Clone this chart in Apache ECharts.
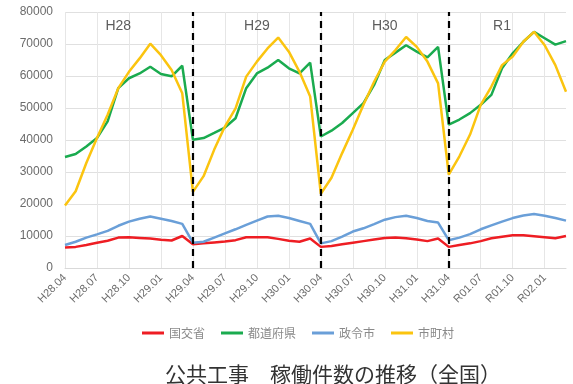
<!DOCTYPE html>
<html>
<head>
<meta charset="utf-8">
<script src="https://cdn.jsdelivr.net/npm/echarts@6/dist/echarts.min.js"></script>
<style>
  html, body { margin: 0; padding: 0; background: #fff; }
  #chart { width: 573px; height: 384px; }
</style>
</head>
<body>
<div id="chart"></div>
<script>
// Months from H28.04 to R02.03 (fiscal years H28, H29, H30, R1)
const months = [
  'H28.04','H28.05','H28.06','H28.07','H28.08','H28.09','H28.10','H28.11','H28.12','H29.01','H29.02','H29.03',
  'H29.04','H29.05','H29.06','H29.07','H29.08','H29.09','H29.10','H29.11','H29.12','H30.01','H30.02','H30.03',
  'H30.04','H30.05','H30.06','H30.07','H30.08','H30.09','H30.10','H30.11','H30.12','H31.01','H31.02','H31.03',
  'H31.04','R01.05','R01.06','R01.07','R01.08','R01.09','R01.10','R01.11','R01.12','R02.01','R02.02','R02.03'
];

// 国交省
const mlit = [
  6400, 6600, 7200, 7900, 8500, 9500, 9600, 9400, 9200, 8800, 8600, 10000,
  7400, 7700, 8000, 8300, 8700, 9600, 9600, 9600, 9100, 8500, 8200, 9200,
  6600, 6900, 7400, 7900, 8400, 8900, 9400, 9500, 9300, 8900, 8400, 9200,
  6600, 7200, 7700, 8400, 9300, 9800, 10200, 10200, 9900, 9600, 9300, 10000
];
// 都道府県
const prefectures = [
  34700, 35600, 38000, 40600, 45800, 56200, 59300, 60800, 62900, 60600, 59900, 63200,
  40100, 40600, 42200, 43900, 46800, 56200, 60800, 62600, 65000, 62400, 60800, 64200,
  41100, 42900, 45300, 48400, 51500, 57200, 65000, 67300, 69600, 67600, 65800, 69100,
  44800, 46400, 48400, 51000, 54100, 62400, 67100, 70700, 73800, 71800, 69800, 70900
];
// 政令市
const designatedCities = [
  7200, 8200, 9500, 10500, 11600, 13200, 14500, 15400, 16100, 15400, 14700, 13800,
  7900, 8200, 9500, 10800, 12100, 13500, 14800, 16100, 16300, 15600, 14700, 13800,
  7700, 8400, 9800, 11400, 12400, 13700, 15100, 15900, 16300, 15600, 14700, 14200,
  8700, 9500, 10600, 12100, 13300, 14500, 15600, 16400, 16900, 16300, 15600, 14800
];
// 市町村
const municipalities = [
  19500, 24000, 32800, 40600, 47900, 56200, 61300, 65500, 70100, 66500, 61900, 54600,
  23800, 28700, 37000, 44200, 49900, 59800, 64500, 68600, 72000, 67600, 61300, 53600,
  23200, 28200, 35900, 43200, 51000, 58200, 64500, 68100, 72200, 69100, 64500, 57700,
  29200, 34900, 41700, 51000, 56700, 63400, 66100, 70700, 73800, 69600, 63400, 55100
];

// Fiscal year boundaries and year captions
const fyStarts = ['H29.04', 'H30.04', 'H31.04'];
const fyNames = ['H28', 'H29', 'H30', 'R1'];
const fyNameAt = ['H28.09', 'H29.10', 'H30.10', 'R01.09'];
const fyNameLevel = 75500;

const seriesNames = ['国交省', '都道府県', '政令市', '市町村'];
const seriesData = [mlit, prefectures, designatedCities, municipalities];
const seriesColors = ['#ee1d23', '#1aab4f', '#6a9fd8', '#fbc40f'];

const baseFont = "'Liberation Sans', 'Noto Sans CJK JP', sans-serif";

const lineSeries = seriesNames.map((name, i) => ({
  name: name,
  type: 'line',
  data: seriesData[i],
  symbol: 'none',
  smooth: false,
  lineStyle: { width: 2.5, color: seriesColors[i] },
  itemStyle: { color: seriesColors[i] },
  z: 2 + i
}));

// Dashed separators between fiscal years
lineSeries[0].markLine = {
  silent: true,
  symbol: ['none', 'none'],
  label: { show: false },
  lineStyle: { color: '#000', width: 2.2, type: [7, 5] },
  data: fyStarts.map(m => ({ xAxis: m })),
  z: 10
};

const chart = echarts.init(document.getElementById('chart'), null, { renderer: 'canvas' });
chart.setOption({
  animation: false,
  textStyle: { fontFamily: baseFont },
  grid: { left: 65, right: 7, top: 12, bottom: 116, containLabel: false },
  title: {
    text: '公共工事　稼働件数の推移（全国）',
    left: 160,
    top: 359,
    textStyle: {
      fontFamily: "'Noto Sans CJK JP', sans-serif",
      fontSize: 21,
      fontWeight: 'normal',
      color: '#333'
    }
  },
  legend: {
    data: seriesNames,
    left: 137,
    top: 322,
    icon: 'rect',
    itemWidth: 22,
    itemHeight: 3,
    itemGap: 16,
    textStyle: { fontFamily: "'Noto Sans CJK JP', sans-serif", fontSize: 12, color: '#8a8a8a' }
  },
  xAxis: {
    type: 'category',
    data: months,
    boundaryGap: false,
    axisLine: { show: true, lineStyle: { color: '#d9d9d9', width: 1 } },
    axisTick: { show: false },
    axisLabel: {
      interval: 2,
      rotate: 45,
      fontSize: 11,
      color: '#6b6b6b',
      margin: 8,
      fontFamily: baseFont
    },
    splitLine: { show: true, interval: 2, lineStyle: { color: '#e6e6e6', width: 1 } }
  },
  yAxis: {
    type: 'value',
    min: 0,
    max: 80000,
    interval: 10000,
    axisLine: { show: false },
    axisTick: { show: false },
    axisLabel: {
      fontSize: 12,
      color: '#6b6b6b',
      margin: 12,
      fontFamily: baseFont,
      formatter: v => String(v)
    },
    splitLine: { show: true, lineStyle: { color: '#e0e0e0', width: 1 } }
  },
  series: lineSeries.concat([{
    name: 'fy',
    type: 'scatter',
    silent: true,
    symbolSize: 1,
    itemStyle: { color: 'rgba(0,0,0,0)' },
    data: fyNameAt.map((m, i) => ({ value: [m, fyNameLevel], name: fyNames[i] })),
    label: {
      show: true,
      position: 'inside',
      formatter: p => p.name,
      fontSize: 14,
      color: '#333',
      fontFamily: baseFont
    },
    z: 20
  }])
});
</script>
</body>
</html>
